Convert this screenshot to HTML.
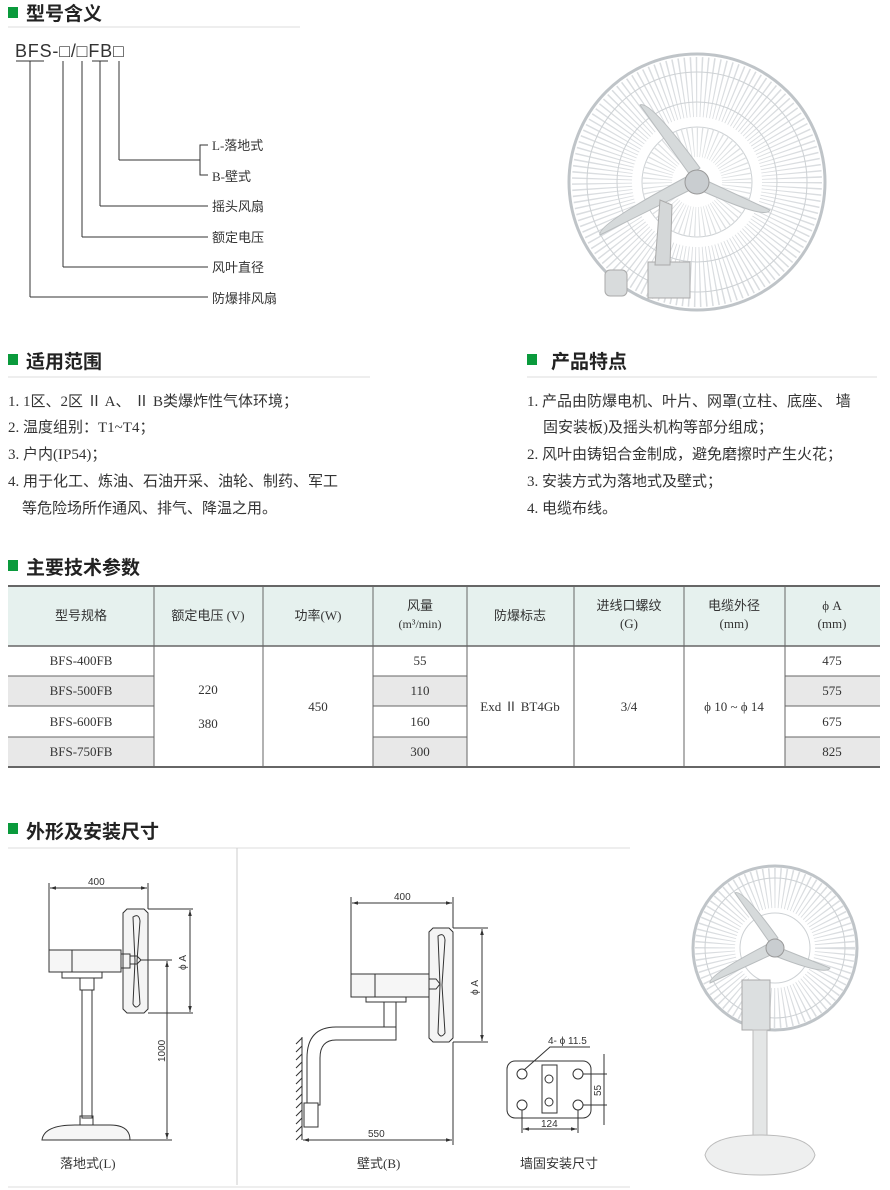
<!DOCTYPE html>
<html><head><meta charset="utf-8"><style>
html,body{margin:0;padding:0;background:#fff;width:890px;height:1190px;overflow:hidden}
svg{display:block}
.h{font-family:"Liberation Sans","Noto Sans CJK SC",sans-serif;font-weight:bold;font-size:19px;fill:#222}
.t{font-family:"Liberation Serif","Noto Sans CJK SC",serif;font-size:15px;fill:#333}
.s{font-family:"Liberation Serif","Noto Sans CJK SC",serif;font-size:13px;fill:#333}
.d{font-family:"Liberation Sans",sans-serif;font-size:10px;fill:#333}
</style></head><body>
<svg width="890" height="1190" viewBox="0 0 890 1190" xmlns="http://www.w3.org/2000/svg">
<defs>
<marker id="a" viewBox="0 0 10 10" refX="10" refY="5" markerWidth="8" markerHeight="6" orient="auto-start-reverse"><path d="M0 2 L10 5 L0 8 Z" fill="#333"/></marker>
</defs>
<!-- headings -->
<rect x="8" y="7" width="10" height="11" fill="#0a9a3c"/><text class="h" x="26" y="20">型号含义</text>
<line x1="8" y1="27" x2="300" y2="27" stroke="#ddd"/>
<rect x="8" y="354" width="10" height="11" fill="#0a9a3c"/><text class="h" x="26" y="368">适用范围</text>
<line x1="8" y1="377" x2="370" y2="377" stroke="#ddd"/>
<rect x="527" y="354" width="10" height="11" fill="#0a9a3c"/><text class="h" x="551" y="368">产品特点</text>
<line x1="527" y1="377" x2="877" y2="377" stroke="#ddd"/>
<rect x="8" y="560" width="10" height="11" fill="#0a9a3c"/><text class="h" x="26" y="574">主要技术参数</text>
<rect x="8" y="823" width="10" height="11" fill="#0a9a3c"/><text class="h" x="26" y="838">外形及安装尺寸</text>
<line x1="8" y1="848" x2="630" y2="848" stroke="#ddd"/>
<!-- model meaning -->
<text x="15" y="57" style="font-family:'Liberation Sans',sans-serif;font-size:18px;letter-spacing:0.8px;fill:#333">BFS-□/□FB□</text>
<g fill="none" stroke="#333" stroke-width="1">
<line x1="16" y1="61" x2="44" y2="61"/><line x1="92" y1="61" x2="108" y2="61"/>
<line x1="30" y1="61" x2="30" y2="297"/><line x1="30" y1="297" x2="208" y2="297"/>
<line x1="63" y1="61" x2="63" y2="267"/><line x1="63" y1="267" x2="208" y2="267"/>
<line x1="82" y1="61" x2="82" y2="237"/><line x1="82" y1="237" x2="208" y2="237"/>
<line x1="100" y1="61" x2="100" y2="206"/><line x1="100" y1="206" x2="208" y2="206"/>
<line x1="119" y1="61" x2="119" y2="160"/><line x1="119" y1="160" x2="200" y2="160"/>
<path d="M208 145 H200 V175 H208"/>
</g>
<text class="s" x="212" y="150">L-落地式</text><text class="s" x="212" y="181">B-壁式</text>
<text class="s" x="212" y="211">摇头风扇</text><text class="s" x="212" y="242">额定电压</text>
<text class="s" x="212" y="272">风叶直径</text><text class="s" x="212" y="303">防爆排风扇</text>
<!-- lists -->
<text class="t" x="8" y="406">1. 1区、2区 Ⅱ A、 Ⅱ B类爆炸性气体环境；</text>
<text class="t" x="8" y="432">2. 温度组别：T1~T4；</text>
<text class="t" x="8" y="459">3. 户内(IP54)；</text>
<text class="t" x="8" y="486">4. 用于化工、炼油、石油开采、油轮、制药、军工</text>
<text class="t" x="22" y="513">等危险场所作通风、排气、降温之用。</text>
<text class="t" x="527" y="406">1. 产品由防爆电机、叶片、网罩(立柱、底座、 墙</text>
<text class="t" x="543" y="432">固安装板)及摇头机构等部分组成；</text>
<text class="t" x="527" y="459">2. 风叶由铸铝合金制成，避免磨擦时产生火花；</text>
<text class="t" x="527" y="486">3. 安装方式为落地式及壁式；</text>
<text class="t" x="527" y="513">4. 电缆布线。</text>
<!-- table -->
<rect x="8" y="586" width="872" height="60" fill="#e6f1ee"/>
<rect x="8" y="676" width="146" height="30" fill="#e8e8e8"/><rect x="8" y="737" width="146" height="30" fill="#e8e8e8"/>
<rect x="373" y="676" width="94" height="30" fill="#e8e8e8"/><rect x="373" y="737" width="94" height="30" fill="#e8e8e8"/>
<rect x="785" y="676" width="95" height="30" fill="#e8e8e8"/><rect x="785" y="737" width="95" height="30" fill="#e8e8e8"/>
<g stroke="#666" stroke-width="1">
<line x1="8" y1="586" x2="880" y2="586" stroke-width="2"/><line x1="8" y1="646" x2="880" y2="646" stroke-width="1.5"/>
<line x1="8" y1="767" x2="880" y2="767" stroke-width="2"/>
<line x1="8" y1="676" x2="154" y2="676"/><line x1="8" y1="706" x2="154" y2="706"/><line x1="8" y1="737" x2="154" y2="737"/>
<line x1="373" y1="676" x2="467" y2="676"/><line x1="373" y1="706" x2="467" y2="706"/><line x1="373" y1="737" x2="467" y2="737"/>
<line x1="785" y1="676" x2="880" y2="676"/><line x1="785" y1="706" x2="880" y2="706"/><line x1="785" y1="737" x2="880" y2="737"/>
<line x1="154" y1="586" x2="154" y2="767"/><line x1="263" y1="586" x2="263" y2="767"/><line x1="373" y1="586" x2="373" y2="767"/>
<line x1="467" y1="586" x2="467" y2="767"/><line x1="574" y1="586" x2="574" y2="767"/><line x1="684" y1="586" x2="684" y2="767"/><line x1="785" y1="586" x2="785" y2="767"/>
</g>
<g text-anchor="middle">
<text class="s" x="81" y="620">型号规格</text><text class="s" x="208" y="620">额定电压 (V)</text><text class="s" x="318" y="620">功率(W)</text>
<text class="s" x="420" y="610">风量</text><text class="s" x="420" y="628" style="font-size:12px">(m³/min)</text>
<text class="s" x="520" y="620">防爆标志</text>
<text class="s" x="629" y="610">进线口螺纹</text><text class="s" x="629" y="628">(G)</text>
<text class="s" x="734" y="610">电缆外径</text><text class="s" x="734" y="628">(mm)</text>
<text class="s" x="832" y="610">ϕ A</text><text class="s" x="832" y="628">(mm)</text>
<text class="s" x="81" y="665">BFS-400FB</text><text class="s" x="81" y="695">BFS-500FB</text><text class="s" x="81" y="726">BFS-600FB</text><text class="s" x="81" y="756">BFS-750FB</text>
<text class="s" x="208" y="694">220</text><text class="s" x="208" y="728">380</text><text class="s" x="318" y="711">450</text>
<text class="s" x="420" y="665">55</text><text class="s" x="420" y="695">110</text><text class="s" x="420" y="726">160</text><text class="s" x="420" y="756">300</text>
<text class="s" x="520" y="711">Exd Ⅱ BT4Gb</text><text class="s" x="629" y="711">3/4</text><text class="s" x="734" y="711">ϕ 10 ~ ϕ 14</text>
<text class="s" x="832" y="665">475</text><text class="s" x="832" y="695">575</text><text class="s" x="832" y="726">675</text><text class="s" x="832" y="756">825</text>
</g>
<!-- dimension drawings frame -->
<line x1="237" y1="848" x2="237" y2="1185" stroke="#ccc"/>
<line x1="8" y1="1187" x2="630" y2="1187" stroke="#ddd"/>
<g fill="none" stroke="#333" stroke-width="1">
<!-- floor -->
<line x1="49" y1="883" x2="49" y2="950"/><line x1="148" y1="883" x2="148" y2="909"/>
<line x1="50" y1="888" x2="147" y2="888" marker-start="url(#a)" marker-end="url(#a)"/>
<path d="M127 909 H144 L148 913 V1009 L144 1013 H127 L123 1009 V913 Z" fill="#f4f4f4"/>
<path d="M133 917 Q139 913 140 921 L137 961 L140 1004 Q136 1010 133 1004 L135 961 Z"/>
<rect x="49" y="950" width="72" height="22" fill="#f6f6f6"/><line x1="72" y1="950" x2="72" y2="972"/>
<rect x="121" y="954" width="9" height="14"/><path d="M130 956 h7 l4 4 l-4 4 h-7z"/>
<rect x="62" y="972" width="40" height="6"/>
<rect x="80" y="978" width="14" height="12"/><rect x="82" y="990" width="10" height="128"/>
<rect x="80" y="1116" width="13" height="9"/><path d="M42 1140 Q44 1125 75 1125 H110 Q130 1125 130 1140 Z" fill="#f6f6f6"/>
<line x1="148" y1="909" x2="193" y2="909"/><line x1="148" y1="1013" x2="193" y2="1013"/>
<line x1="190" y1="910" x2="190" y2="1012" marker-start="url(#a)" marker-end="url(#a)"/>
<line x1="141" y1="960" x2="172" y2="960"/><line x1="130" y1="1140" x2="172" y2="1140"/>
<line x1="167" y1="961" x2="167" y2="1139" marker-start="url(#a)" marker-end="url(#a)"/>
<!-- wall -->
<line x1="351" y1="897" x2="351" y2="974"/><line x1="453" y1="897" x2="453" y2="928"/><line x1="453" y1="1042" x2="453" y2="1145"/>
<line x1="352" y1="903" x2="452" y2="903" marker-start="url(#a)" marker-end="url(#a)"/>
<path d="M433 928 H449 L453 932 V1038 L449 1042 H433 L429 1038 V932 Z" fill="#f4f4f4"/>
<path d="M438 936 Q444 932 445 940 L442 985 L445 1033 Q441 1039 438 1033 L440 985 Z"/>
<rect x="351" y="974" width="78" height="23" fill="#f6f6f6"/><line x1="375" y1="974" x2="375" y2="997"/>
<path d="M429 979 h7 l4 5 l-4 5 h-7z"/>
<rect x="366" y="997" width="40" height="5"/>
<rect x="384" y="1002" width="12" height="38" fill="#fff"/>
<path d="M396 1040 V1027 H336 Q307 1027 307 1058 V1105 H320 V1058 Q320 1040 336 1040 Z" fill="#fff"/>
<rect x="304" y="1103" width="14" height="24" fill="#fff"/>
<line x1="302" y1="1037" x2="302" y2="1140"/>
<path d="M296 1044 l6 -6 M296 1052 l6 -6 M296 1060 l6 -6 M296 1068 l6 -6 M296 1076 l6 -6 M296 1084 l6 -6 M296 1092 l6 -6 M296 1100 l6 -6 M296 1108 l6 -6 M296 1116 l6 -6 M296 1124 l6 -6 M296 1132 l6 -6 M296 1140 l6 -6"/>
<line x1="453" y1="928" x2="488" y2="928"/><line x1="453" y1="1042" x2="488" y2="1042"/>
<line x1="482" y1="929" x2="482" y2="1041" marker-start="url(#a)" marker-end="url(#a)"/>
<line x1="303" y1="1140" x2="452" y2="1140" marker-start="url(#a)" marker-end="url(#a)"/>
<!-- plate -->
<rect x="507" y="1061" width="84" height="57" rx="8"/>
<rect x="542" y="1065" width="15" height="48"/>
<ellipse cx="522" cy="1074" rx="5" ry="5"/><ellipse cx="578" cy="1074" rx="5" ry="5"/><ellipse cx="522" cy="1105" rx="5" ry="5"/><ellipse cx="578" cy="1105" rx="5" ry="5"/>
<circle cx="549" cy="1079" r="4"/><circle cx="549" cy="1102" r="4"/>
<path d="M524 1070 L550 1047 H590"/>
<line x1="583" y1="1074" x2="607" y2="1074"/><line x1="583" y1="1105" x2="607" y2="1105"/>
<line x1="604" y1="1054" x2="604" y2="1125"/>
<line x1="522" y1="1110" x2="522" y2="1133"/><line x1="578" y1="1110" x2="578" y2="1133"/>
<line x1="523" y1="1129" x2="577" y2="1129" marker-start="url(#a)" marker-end="url(#a)"/>
</g>
<text class="d" x="88" y="885">400</text><text class="d" x="394" y="900">400</text><text class="d" x="368" y="1137">550</text>
<text class="d" x="548" y="1044">4- ϕ 11.5</text><text class="d" x="541" y="1127">124</text>
<text class="d" transform="translate(186 970) rotate(-90)">ϕ A</text>
<text class="d" transform="translate(478 995) rotate(-90)">ϕ A</text>
<text class="d" transform="translate(165 1062) rotate(-90)">1000</text>
<text class="d" transform="translate(601 1096) rotate(-90)">55</text>
<text class="s" x="60" y="1168">落地式(L)</text><text class="s" x="357" y="1168">壁式(B)</text><text class="s" x="520" y="1168">墙固安装尺寸</text>
<!-- top fan photo -->
<g fill="none">
<circle cx="697" cy="182" r="128" stroke-width="3" stroke="#bfc4c8"/>
<circle cx="697" cy="182" r="95" stroke-width="60" stroke-dasharray="1.2 3.5" stroke="#dadde0"/>
<circle cx="697" cy="182" r="110" stroke="#cdd1d4"/><circle cx="697" cy="182" r="80" stroke="#cdd1d4"/><circle cx="697" cy="182" r="55" stroke="#cdd1d4"/>
<circle cx="697" cy="182" r="40" stroke-width="30" stroke-dasharray="1 3" stroke="#dde0e2"/>
</g>
<path d="M690 175 L640 105 Q650 100 700 168 Z M700 185 L600 235 Q596 225 690 175 Z M705 180 L770 210 Q766 220 700 190 Z" fill="#d6dadb" stroke="#b8bcbe"/>
<circle cx="697" cy="182" r="12" fill="#c9cdd0" stroke="#999"/>
<rect x="648" y="262" width="42" height="36" fill="#dcdfe0" stroke="#aaa"/>
<path d="M660 200 L655 265 L670 265 L672 205 Z" fill="#d4d7d8" stroke="#aaa"/>
<rect x="605" y="270" width="22" height="26" rx="5" fill="#d8dbdc" stroke="#aaa"/>
<!-- bottom fan photo -->
<g fill="none">
<circle cx="775" cy="948" r="82" stroke-width="3" stroke="#bfc4c8"/>
<circle cx="775" cy="948" r="60" stroke-width="40" stroke-dasharray="1.2 3.5" stroke="#dadde0"/>
<circle cx="775" cy="948" r="70" stroke="#cdd1d4"/><circle cx="775" cy="948" r="35" stroke="#cdd1d4"/>
</g>
<path d="M770 943 L735 893 Q742 888 778 938 Z M775 953 L710 983 Q708 975 770 943 Z M780 948 L830 968 Q826 976 775 956 Z" fill="#d6dadb" stroke="#b8bcbe"/>
<circle cx="775" cy="948" r="9" fill="#c9cdd0" stroke="#999"/>
<rect x="742" y="980" width="28" height="50" fill="#dcdfe0" stroke="#aaa"/>
<rect x="753" y="1030" width="14" height="110" fill="#e4e6e6" stroke="#bbb"/>
<path d="M705 1155 Q710 1135 760 1135 Q810 1135 815 1155 Q810 1175 760 1175 Q710 1175 705 1155 Z" fill="#eeefef" stroke="#bbb"/>
</svg>
</body></html>
